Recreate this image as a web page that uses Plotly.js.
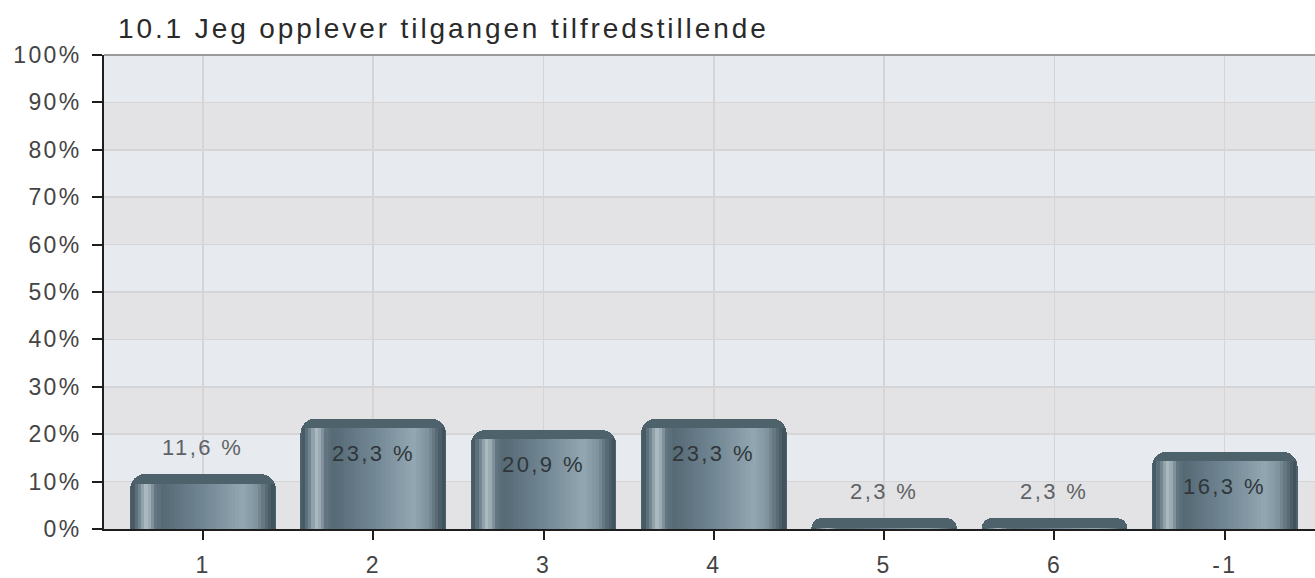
<!DOCTYPE html>
<html>
<head>
<meta charset="utf-8">
<script src="https://cdn.plot.ly/plotly-3.0.1.min.js"></script>
<style>
  html, body { margin: 0; padding: 0; background: #ffffff; overflow: hidden; }
  #chart { width: 1315px; height: 578px; }
  .gtitle { letter-spacing: 2.9px; }
  .ytick text, .xtick text { letter-spacing: 2.3px; }
  .annotation-text { letter-spacing: 2.4px; }
</style>
</head>
<body>
<div id="chart"></div>
<script>
// ---- data ----
const categories = ['1', '2', '3', '4', '5', '6', '-1'];
const percentValues = [11.6, 23.3, 20.9, 23.3, 2.3, 2.3, 16.3];
const chartTitle = '10.1 Jeg opplever tilgangen tilfredstillende';
const yTickValues = [0, 10, 20, 30, 40, 50, 60, 70, 80, 90, 100];
const yTickLabels = ['0%', '10%', '20%', '30%', '40%', '50%', '60%', '70%', '80%', '90%', '100%'];

// ---- styling ----
const FONT = '"Liberation Sans", Arial, Helvetica, sans-serif';
const barWidth = 0.855;
const capDepth = 2.0; // % units kept for the darker rounded cap
// horizontal colour profile of the cylinder look: [fraction across bar, colour]
const gradientStops = [
  [0.00, [62, 80, 90]], [0.05, [106, 127, 138]], [0.10, [172, 186, 192]],
  [0.13, [152, 168, 176]], [0.17, [98, 117, 128]], [0.22, [86, 106, 118]],
  [0.50, [112, 134, 146]], [0.78, [147, 167, 178]], [0.88, [126, 146, 157]],
  [0.95, [84, 102, 112]], [1.00, [60, 78, 88]]
];
function colourAt(f) {
  for (let i = 1; i < gradientStops.length; i++) {
    const [f1, c1] = gradientStops[i];
    const [f0, c0] = gradientStops[i - 1];
    if (f <= f1) {
      const t = (f - f0) / (f1 - f0);
      return 'rgb(' + c0.map((c, k) => Math.round(c + (c1[k] - c) * t)).join(',') + ')';
    }
  }
  return 'rgb(60,78,88)';
}
const nStripes = 44;
const stripeSpan = 0.84;
const stripeW = stripeSpan / nStripes;

const traces = [];
// base bar (dark, rounded top)
traces.push({
  type: 'bar', x: categories, y: percentValues,
  width: barWidth, offset: -barWidth / 2,
  marker: { color: '#4e626c', cornerradius: 15, line: { width: 0 } },
  hoverinfo: 'skip', showlegend: false
});
// gradient stripes
const stripeHeights = percentValues.map(v => Math.max(v - capDepth, 0));
for (let i = 0; i < nStripes; i++) {
  traces.push({
    type: 'bar', x: categories, y: stripeHeights,
    width: stripeW * 1.05, offset: -stripeSpan / 2 + i * stripeW,
    marker: { color: colourAt((i + 0.5) / nStripes), line: { width: 0 } },
    hoverinfo: 'skip', showlegend: false
  });
}

// value labels (x given as category index)
const annotations = percentValues.map((v, i) => {
  const inside = v > 15;
  return {
    x: i, y: inside ? v - 7.3 : v + 5.7,
    xref: 'x', yref: 'y',
    text: v.toFixed(1).replace('.', ',') + ' %',
    showarrow: false,
    font: { family: FONT, size: 22, color: inside ? '#30363a' : '#5e6266' }
  };
});

// alternating horizontal bands + top border
const shapes = [];
for (let k = 0; k < yTickValues.length - 1; k++) {
  shapes.push({
    type: 'rect', xref: 'paper', yref: 'y', layer: 'below',
    x0: 0, x1: 1, y0: yTickValues[k], y1: yTickValues[k + 1],
    fillcolor: (k % 2 === 1) ? '#e7eaee' : '#e3e3e5',
    line: { width: 0 }
  });
}
shapes.push({
  type: 'line', xref: 'paper', yref: 'paper', x0: 0, x1: 1, y0: 1, y1: 1,
  line: { color: '#9a9a9a', width: 2 }
});

const layout = {
  width: 1315, height: 578,
  margin: { l: 104, r: 0, t: 55, b: 49, pad: 0 },
  paper_bgcolor: '#ffffff', plot_bgcolor: '#e3e3e5',
  barmode: 'overlay', bargap: 0,
  font: { family: FONT, color: '#444444' },
  title: {
    text: chartTitle,
    font: { family: FONT, size: 28, color: '#2a2a2a' },
    x: 118 / 1315, xanchor: 'left', xref: 'container',
    y: 1 - 28 / 578, yanchor: 'middle', yref: 'container'
  },
  xaxis: {
    type: 'category', categoryorder: 'array', categoryarray: categories,
    range: [-0.581, 6.53],
    showgrid: true, gridcolor: '#d5d5d7', gridwidth: 1.5,
    showline: true, linecolor: '#1e1e1e', linewidth: 2,
    ticks: 'outside', ticklen: 9, tickwidth: 2, tickcolor: '#1e1e1e',
    ticklabelstandoff: 5,
    tickfont: { family: FONT, size: 23, color: '#444444' },
    zeroline: false, fixedrange: true
  },
  yaxis: {
    range: [0, 100],
    tickvals: yTickValues, ticktext: yTickLabels,
    showgrid: true, gridcolor: '#d5d5d7', gridwidth: 1.5,
    showline: true, linecolor: '#1e1e1e', linewidth: 2,
    ticks: 'outside', ticklen: 10, tickwidth: 2, tickcolor: '#1e1e1e',
    ticklabelstandoff: 6,
    tickfont: { family: FONT, size: 23, color: '#444444' },
    zeroline: false, fixedrange: true
  },
  shapes: shapes,
  annotations: annotations
};

Plotly.newPlot('chart', traces, layout, { displayModeBar: false, staticPlot: true });
</script>
</body>
</html>
